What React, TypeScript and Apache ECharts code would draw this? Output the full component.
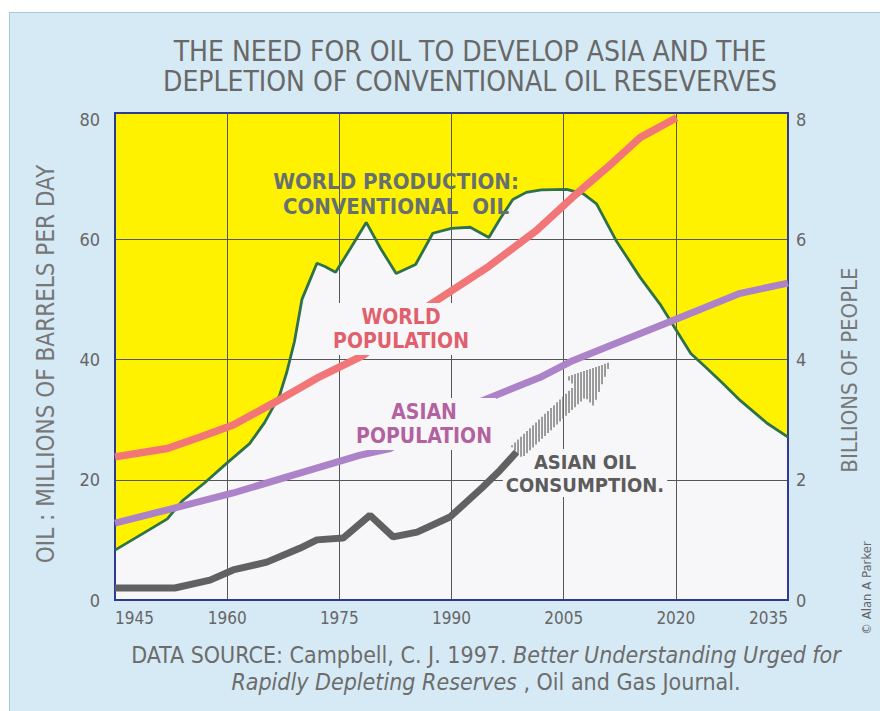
import React, { useEffect, useRef } from 'react';
import * as echarts from 'echarts';

// ---- data (years vs values) ----
// World production of conventional oil, millions of barrels per day
const WORLD_PRODUCTION: [number, number][] = [
  [1945, 8.3], [1950, 12], [1952, 13.5], [1954, 16.5], [1957, 19.5], [1960, 22.8],
  [1963, 26], [1965, 29.5], [1967, 34], [1968, 38], [1969, 43], [1970, 50],
  [1971, 53], [1972, 56], [1973, 55.5], [1974.5, 54.5], [1976.5, 58.5], [1978.6, 62.8],
  [1980.5, 58.5], [1982.6, 54.3], [1985.2, 55.8], [1987.5, 61], [1990, 61.8],
  [1992.5, 62], [1995, 60.3], [1996.5, 63.4], [1998.2, 66.6], [2000, 67.8],
  [2002, 68.2], [2005.4, 68.3], [2007.6, 67.6], [2009.4, 65.9], [2012, 59.8],
  [2015.2, 53.7], [2018, 49], [2020, 45], [2022, 41], [2024, 38.7], [2026.3, 36],
  [2028.6, 33.2], [2032.2, 29.4], [2035, 27.1],
];
// World population, billions
const WORLD_POPULATION: [number, number][] = [
  [1945, 2.38], [1952, 2.52], [1956.4, 2.71], [1960.8, 2.91], [1966.1, 3.27],
  [1972, 3.69], [1978.2, 4.07], [1987, 4.9], [1995, 5.55], [2001.4, 6.15],
  [2006.2, 6.7], [2010.8, 7.19], [2015.2, 7.69], [2020.1, 8.02],
];
// Asian population, billions
const ASIAN_POPULATION: [number, number][] = [
  [1945, 1.28], [1952, 1.5], [1960.8, 1.78], [1969.7, 2.11], [1977.8, 2.41],
  [1981.8, 2.52], [1988, 2.95], [1994.2, 3.32], [2001.8, 3.7], [2006.2, 3.98],
  [2012, 4.27], [2019.6, 4.65], [2028.6, 5.1], [2035, 5.27],
];
// Asian oil consumption, millions of barrels per day
const ASIAN_OIL: [number, number][] = [
  [1945, 2.0], [1953, 2.0], [1957.7, 3.3], [1960.8, 5.0], [1965.3, 6.3],
  [1969.7, 8.6], [1972, 10.0], [1975.5, 10.3], [1979.1, 14.1], [1982.2, 10.5],
  [1985.4, 11.3], [1989.8, 13.8], [1994.2, 18.8], [1996.5, 21.6], [1998.7, 24.6],
];
// Projected growth of Asian oil consumption (hatched arrow: start, tip)
const ASIAN_OIL_ARROW: [number, number][] = [[1998.7, 24.6], [2011.3, 39.6]];

const OIL_GRID_LINES = [20, 40, 60];

const NARROW = "'Liberation Sans Narrow', 'Arial Narrow', 'DejaVu Sans Condensed', sans-serif";
const TEXT_GRAY = '#666666';
const PLOT_WHITE = '#f7f7f9';
const FRAME = '#2e3b8f';

function txt(text: string, x: number, y: number, size: number, color: string, extra: any = {}) {
  return {
    type: 'text',
    x,
    y,
    z: extra.z ?? 100,
    ...extra.el,
    style: {
      text,
      fill: color,
      fontSize: size,
      fontFamily: NARROW,
      fontWeight: extra.bold ? 'bold' : 'normal',
      align: 'center',
      verticalAlign: 'middle',
      textAlign: 'center',
      textVerticalAlign: 'middle',
      lineHeight: extra.lineHeight,
      backgroundColor: extra.bg,
      padding: extra.padding,
      rich: extra.rich,
    },
  };
}

export default function App() {
  const ref = useRef<HTMLDivElement>(null);

  useEffect(() => {
    if (!ref.current) return;
    const chart = echarts.init(ref.current, undefined, { renderer: 'svg' });

    const hideOdd = (step: number) => (v: number) =>
      Math.abs(v / step - Math.round(v / step)) < 1e-6 ? String(Math.round(v)) : '';

    const footRich = {
      n: { fontSize: 23, fontFamily: NARROW, fill: '#6c6c6c' },
      i: { fontSize: 23, fontFamily: NARROW, fill: '#6c6c6c', fontStyle: 'italic' },
    };

    const option: any = {
      animation: false,
      backgroundColor: 'transparent',
      grid: {
        left: 115,
        right: 92,
        top: 113,
        bottom: 111,
        show: true,
        backgroundColor: '#fff200',
        borderColor: FRAME,
        borderWidth: 2,
        z: 0,
      },
      xAxis: {
        type: 'value',
        min: 1945,
        max: 2035,
        interval: 15,
        z: 4,
        axisLine: { show: true, lineStyle: { color: FRAME, width: 2 } },
        axisTick: { show: false },
        splitLine: { show: true, lineStyle: { color: '#555', width: 1 } },
        axisLabel: {
          color: TEXT_GRAY,
          fontSize: 17,
          fontFamily: NARROW,
          margin: 9,
          alignMinLabel: 'left',
          alignMaxLabel: 'right',
          formatter: (v: number) => String(v),
        },
      },
      yAxis: [
        {
          type: 'value',
          min: 0,
          max: 81,
          interval: 20,
          position: 'left',
          z: 4,
          axisLine: { show: true, lineStyle: { color: FRAME, width: 2 } },
          axisTick: { show: false },
          splitLine: { show: false },
          axisLabel: { color: TEXT_GRAY, fontSize: 18, fontFamily: NARROW, margin: 15, formatter: hideOdd(20) },
        },
        {
          type: 'value',
          min: 0,
          max: 8.1,
          interval: 2,
          position: 'right',
          z: 4,
          axisLine: { show: true, lineStyle: { color: FRAME, width: 2 } },
          axisTick: { show: false },
          splitLine: { show: false },
          axisLabel: { color: TEXT_GRAY, fontSize: 18, fontFamily: NARROW, margin: 8, formatter: hideOdd(2) },
        },
      ],
      series: [
        {
          name: 'production-area',
          type: 'line',
          data: WORLD_PRODUCTION,
          symbol: 'none',
          z: 3,
          lineStyle: { width: 0 },
          areaStyle: { color: PLOT_WHITE, opacity: 1 },
          markLine: {
            silent: true,
            symbol: 'none',
            z: 4,
            label: { show: false },
            lineStyle: { color: '#555', width: 1, type: 'solid' },
            data: OIL_GRID_LINES.map((v) => ({ yAxis: v })),
          },
        },
        {
          name: 'World production: conventional oil',
          type: 'line',
          data: WORLD_PRODUCTION,
          symbol: 'none',
          z: 6,
          lineStyle: { color: '#2f7149', width: 2.8 },
        },
        {
          name: 'World population',
          type: 'line',
          yAxisIndex: 1,
          data: WORLD_POPULATION,
          symbol: 'none',
          z: 10,
          lineStyle: { color: '#f27677', width: 7.5 },
        },
        {
          name: 'Asian population',
          type: 'line',
          yAxisIndex: 1,
          data: ASIAN_POPULATION,
          symbol: 'none',
          z: 10,
          lineStyle: { color: '#ac82c8', width: 7 },
        },
        {
          name: 'Asian oil consumption',
          type: 'line',
          data: ASIAN_OIL,
          symbol: 'none',
          z: 10,
          lineStyle: { color: '#616161', width: 7 },
        },
        {
          name: 'Asian oil arrow',
          type: 'custom',
          z: 9,
          data: [ASIAN_OIL_ARROW[0]],
          renderItem: (params: any, api: any) => {
            if (params.dataIndex !== 0) return null;
            const s = api.coord(ASIAN_OIL_ARROW[0]);
            const t = api.coord(ASIAN_OIL_ARROW[1]);
            const dx = t[0] - s[0];
            const dy = t[1] - s[1];
            const len = Math.hypot(dx, dy);
            const ux = dx / len;
            const uy = dy / len;
            const nx = -uy;
            const ny = ux;
            const hl = 43;
            const hh = 20;
            const hs = 8;
            const bx = t[0] - ux * hl;
            const by = t[1] - uy * hl;
            const poly = [
              [s[0] + nx * hs, s[1] + ny * hs],
              [bx + nx * hs, by + ny * hs],
              [bx + nx * hh, by + ny * hh],
              [t[0], t[1]],
              [bx - nx * hh, by - ny * hh],
              [bx - nx * hs, by - ny * hs],
              [s[0] - nx * hs, s[1] - ny * hs],
            ];
            const xs = poly.map((p) => p[0]);
            const minX = Math.min(...xs);
            const maxX = Math.max(...xs);
            const children: any[] = [];
            for (let x = minX + 1; x < maxX; x += 3) {
              const ys: number[] = [];
              for (let i = 0; i < poly.length; i++) {
                const a = poly[i];
                const b = poly[(i + 1) % poly.length];
                if ((a[0] <= x && b[0] > x) || (b[0] <= x && a[0] > x)) {
                  const k = (x - a[0]) / (b[0] - a[0]);
                  ys.push(a[1] + k * (b[1] - a[1]));
                }
              }
              ys.sort((p, q) => p - q);
              for (let k = 0; k + 1 < ys.length; k += 2) {
                children.push({
                  type: 'line',
                  shape: { x1: x, y1: ys[k], x2: x, y2: ys[k + 1] },
                  style: { stroke: '#6a6a6a', lineWidth: 1.3 },
                });
              }
            }
            return { type: 'group', children };
          },
        },
      ],
      graphic: [
        txt('THE NEED FOR OIL TO DEVELOP ASIA AND THE', 470, 51, 28, '#686868'),
        txt('DEPLETION OF CONVENTIONAL OIL RESEVERVES', 470, 81, 28, '#686868'),
        txt('OIL : MILLIONS OF BARRELS PER DAY', 46, 364, 24, '#777', { el: { rotation: Math.PI / 2 } }),
        txt('BILLIONS OF PEOPLE', 849, 370, 22, '#777', { el: { rotation: Math.PI / 2 } }),
        txt('© Alan A Parker', 866, 588, 13, '#666', { el: { rotation: Math.PI / 2 } }),
        txt('WORLD PRODUCTION:\nCONVENTIONAL  OIL', 396, 194, 22, '#667070', { bold: true, lineHeight: 25 }),
        txt('WORLD\nPOPULATION', 401, 329, 21, '#e0606d', { bold: true, lineHeight: 24, bg: PLOT_WHITE, padding: [2, 4] }),
        txt('ASIAN\nPOPULATION', 424, 424, 21, '#b3629f', { bold: true, lineHeight: 24, bg: PLOT_WHITE, padding: [2, 4] }),
        txt('ASIAN OIL\nCONSUMPTION.', 585, 473, 20, '#5c5c5c', { bold: true, lineHeight: 23, bg: PLOT_WHITE, padding: [1, 3], z: 8 }),
        txt('{n|DATA SOURCE: Campbell, C. J. 1997. }{i|Better Understanding Urged for}', 486, 655, 23, '#6c6c6c', { rich: footRich }),
        txt('{i|Rapidly Depleting Reserves}{n| , Oil and Gas Journal.}', 486, 682, 23, '#6c6c6c', { rich: footRich }),
      ],
    };

    chart.setOption(option);
    return () => chart.dispose();
  }, []);

  return (
    <div style={{ position: 'fixed', left: 0, top: 0, width: 880, height: 711, background: '#ffffff', overflow: 'hidden' }}>
      <div
        style={{
          position: 'absolute',
          left: 9,
          top: 12,
          right: 0,
          bottom: 0,
          background: '#d6eaf5',
          borderLeft: '1px solid #a9cadd',
          borderTop: '1px solid #a9cadd',
        }}
      />
      <div ref={ref} style={{ position: 'absolute', left: 0, top: 0, width: 880, height: 711 }} />
    </div>
  );
}
